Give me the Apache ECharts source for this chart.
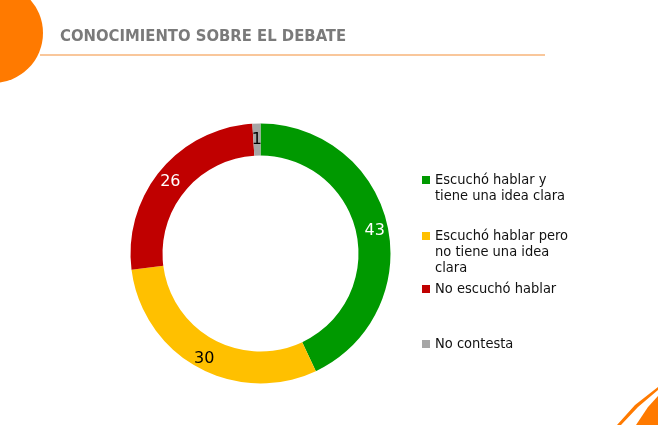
<!DOCTYPE html>
<html><head><meta charset="utf-8">
<script src="https://cdn.jsdelivr.net/npm/echarts@6/dist/echarts.min.js"></script>
<style>html,body{margin:0;padding:0;background:#fff}#c{width:658px;height:425px}</style>
</head><body><div id="c"></div>
<script>
const categories = ['Escuchó hablar y\ntiene una idea clara', 'Escuchó hablar pero\nno tiene una idea\nclara', 'No escuchó hablar', 'No contesta'];
const values = [43, 30, 26, 1];
const colors = ['#009900', '#FFC000', '#C00000', '#A6A6A6'];
const labelColors = ['#ffffff', '#000000', '#ffffff', '#000000'];

const chart = echarts.init(document.getElementById('c'));
const font = 'DejaVu Sans';
const condFont = '"DejaVu Sans Condensed", "DejaVu Sans"';
const lineH = 16;
// icon centre y for each legend entry (aligned with first text line)
const legendIconY = [180, 236, 289, 344];
chart.setOption({
  animation: false,
  title: {
    text: 'CONOCIMIENTO SOBRE EL DEBATE',
    left: 60, top: 28, padding: 0,
    textStyle: {fontFamily: condFont, fontSize: 16.5, fontWeight: 'bold', color: '#7a7a7a'}
  },
  legend: categories.map((c, i) => {
    const n = c.split('\n').length;
    const h = (2 * n - 1) * lineH;
    return {
      data: [c], left: 422, top: legendIconY[i] - h / 2, orient: 'vertical', padding: 0,
      icon: 'rect', itemWidth: 8, itemHeight: 8,
      formatter: name => '\n'.repeat(n - 1) + name,
      textStyle: {fontFamily: condFont, fontSize: 14.5, color: '#111', lineHeight: lineH},
      selectedMode: false
    };
  }),
  graphic: [
    {type: 'circle', shape: {cx: -7, cy: 33, r: 50}, style: {fill: '#FF7A00'}, z: 10},
    {type: 'line', shape: {x1: 40, y1: 55, x2: 545, y2: 55}, style: {stroke: '#F7B57A', lineWidth: 1.5}},
    {type: 'polygon', shape: {points: [[636, 425], [648, 407], [658, 396], [658, 425]]}, style: {fill: '#FF7A00'}},
    {type: 'polygon', shape: {points: [[617, 425], [635, 405], [658, 387], [658, 390], [638, 407], [621, 425]]}, style: {fill: '#FF7A00'}}
  ],
  series: [{
    type: 'pie',
    center: [260.5, 253.5],
    radius: [98, 130],
    startAngle: 90,
    clockwise: true,
    avoidLabelOverlap: false,
    label: {
      show: true, position: 'inside', formatter: '{v|{c}}',
      fontFamily: font, fontSize: 16,
      rich: {v: {fontFamily: font, fontSize: 16, padding: [6, 0, 0, 0]}}
    },
    labelLine: {show: false},
    emphasis: {disabled: true},
    data: categories.map((c, i) => ({
      name: c, value: values[i],
      itemStyle: {color: colors[i]},
      label: {color: labelColors[i]}
    }))
  }]
});
</script></body></html>
